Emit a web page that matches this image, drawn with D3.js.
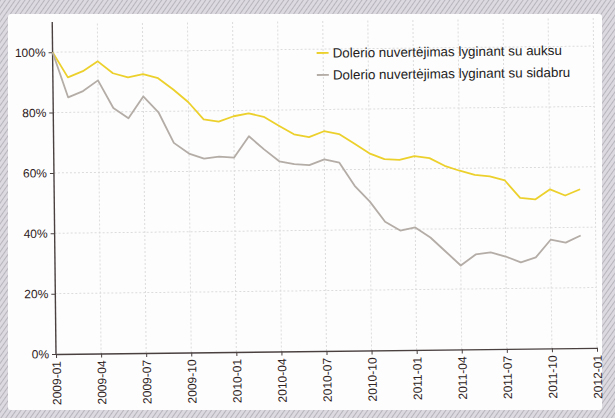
<!DOCTYPE html>
<html>
<head>
<meta charset="utf-8">
<script src="https://cdn.jsdelivr.net/npm/d3@7"></script>
<style>
  body { margin: 0; background: #fff; }
  svg { display: block; }
  .axis text { font-family: "Liberation Sans", Arial, sans-serif; font-size: 12px; fill: #2e2222; }
  .legend text { font-family: "Liberation Sans", Arial, sans-serif; font-size: 13.4px; fill: #241c1c; }
</style>
</head>
<body>
<div id="chart"></div>
<script>
// monthly points, 2009-01 .. 2011-12
const months = d3.range(36);
const goldValues = [100, 91.6, 93.6, 96.8, 92.8, 91.4, 92.4, 91, 87.2, 82.9, 77.2, 76.4,
  78.1, 79, 77.8, 74.8, 71.9, 70.9, 72.8, 71.8, 68.6, 65.3, 63.3, 63,
  64.2, 63.5, 60.9, 59.2, 57.8, 57.2, 55.8, 50, 49.4, 52.7, 50.6, 52.6];
const silverValues = [100, 85, 87, 90.5, 81.3, 77.8, 85, 79.7, 69.5, 65.9, 64.2, 64.8,
  64.4, 71.4, 67, 63, 62, 61.6, 63.5, 62.3, 54.6, 49.3, 42.6, 39.6,
  40.6, 37.2, 32.5, 27.8, 31.4, 32, 30.6, 28.6, 30.2, 36, 35, 37.3];
const seriesNames = ['Dolerio nuvertėjimas lyginant su auksu', 'Dolerio nuvertėjimas lyginant su sidabru'];
const seriesColors = ['#ecd02c', '#b4aca6'];
const xTickValues = d3.range(0, 37, 3);
const xTickLabels = ['2009-01', '2009-04', '2009-07', '2009-10', '2010-01', '2010-04', '2010-07',
  '2010-10', '2011-01', '2011-04', '2011-07', '2011-10', '2012-01'];
const yTickValues = [0, 20, 40, 60, 80, 100];

const width = 615, height = 418;
const margin = {top: 22, right: 18, bottom: 64, left: 56};

const svg = d3.select('#chart').append('svg')
  .attr('width', width)
  .attr('height', height);

// scanned page texture around the chart
const pat = svg.append('defs').append('pattern')
  .attr('id', 'hatch')
  .attr('width', 4).attr('height', 4)
  .attr('patternUnits', 'userSpaceOnUse')
  .attr('patternTransform', 'rotate(35)');
pat.append('rect').attr('width', 4).attr('height', 4).attr('fill', '#dcdae0');
pat.append('line').attr('x1', 0).attr('y1', 0).attr('x2', 0).attr('y2', 4)
  .attr('stroke', '#aeabb4').attr('stroke-width', 1.6);

svg.append('rect').attr('width', width).attr('height', height).attr('fill', 'url(#hatch)');
svg.append('rect')
  .attr('x', 8).attr('y', 14)
  .attr('width', 594).attr('height', 396)
  .attr('rx', 3)
  .attr('fill', '#fdfdfd');

const x = d3.scaleLinear()
  .domain([0, 36])
  .range([margin.left, width - margin.right]);
const y = d3.scaleLinear()
  .domain([0, 110])
  .range([height - margin.bottom, margin.top]);

// the scan is slightly rotated
const chart = svg.append('g')
  .attr('transform', `rotate(-0.65, ${x(0)}, ${y(0)})`);

// gridlines
chart.append('g')
  .selectAll('line')
  .data(xTickValues.slice(1))
  .join('line')
  .attr('x1', d => x(d)).attr('x2', d => x(d))
  .attr('y1', y(0)).attr('y2', margin.top)
  .attr('stroke', '#dcdcdc')
  .attr('stroke-dasharray', '2,2');

chart.append('g')
  .selectAll('line')
  .data(yTickValues.slice(1))
  .join('line')
  .attr('x1', x(0)).attr('x2', x(36))
  .attr('y1', d => y(d)).attr('y2', d => y(d))
  .attr('stroke', '#dcdcdc')
  .attr('stroke-dasharray', '2,2');

// axes
const xAxisG = chart.append('g')
  .attr('class', 'axis')
  .attr('transform', `translate(0,${y(0)})`)
  .call(d3.axisBottom(x).tickValues(xTickValues).tickFormat((d, i) => xTickLabels[i]).tickSize(4).tickSizeOuter(0));
xAxisG.selectAll('text')
  .attr('text-anchor', 'end')
  .attr('transform', 'rotate(-90)')
  .attr('x', -7)
  .attr('y', 0)
  .attr('dy', '0.35em');

const yAxisG = chart.append('g')
  .attr('class', 'axis')
  .attr('transform', `translate(${x(0)},0)`)
  .call(d3.axisLeft(y).tickValues(yTickValues).tickFormat(d => d + '%').tickSize(4).tickSizeOuter(0));
yAxisG.select('.domain').attr('d', `M0,${y(0)}V${margin.top}`);

chart.selectAll('.axis .domain').attr('stroke', '#4a4040').attr('stroke-width', 1.4);
chart.selectAll('.axis .tick line').attr('stroke', '#4a4040');

// lines
const line = d3.line()
  .x((d, i) => x(months[i]))
  .y(d => y(d));

[goldValues, silverValues].forEach((vals, k) => {
  chart.append('path')
    .datum(vals)
    .attr('fill', 'none')
    .attr('stroke', seriesColors[k])
    .attr('stroke-width', 1.8)
    .attr('stroke-linejoin', 'round')
    .attr('d', line);
});

// legend
const legend = chart.append('g')
  .attr('class', 'legend')
  .attr('transform', 'translate(320,56)');
const items = legend.selectAll('g')
  .data(seriesNames)
  .join('g')
  .attr('transform', (d, i) => `translate(0,${i * 22})`);
items.append('line')
  .attr('x1', 0).attr('x2', 12)
  .attr('stroke', (d, i) => seriesColors[i])
  .attr('stroke-width', 1.8);
items.append('text')
  .attr('x', 16)
  .attr('dy', '0.35em')
  .text(d => d);
</script>
</body>
</html>
